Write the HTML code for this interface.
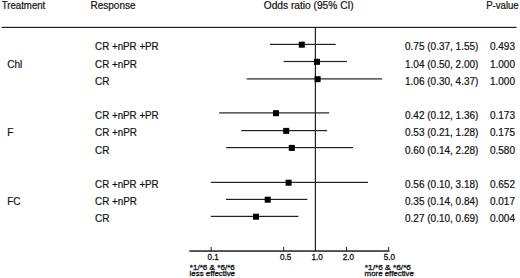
<!DOCTYPE html>
<html><head><meta charset="utf-8"><style>
html,body{margin:0;padding:0;background:#fff;width:520px;height:278px;overflow:hidden}
svg{display:block}
text{font-family:"Liberation Sans",sans-serif;fill:#111;stroke:#111;stroke-width:0.2px}
.h{font-size:10px}
.t{font-size:10px}
.a{font-size:8px;stroke-width:0.3px}
.k{font-size:8.8px;stroke-width:0.3px}
</style></head><body>
<svg width="520" height="278" viewBox="0 0 520 278">
<rect width="520" height="278" fill="#fff"/>

<text class="h" x="1.7" y="8.6" textLength="43.6" lengthAdjust="spacingAndGlyphs">Treatment</text>
<text class="h" x="90.5" y="8.6">Response</text>
<text class="h" x="263.8" y="8.6" textLength="89.9" lengthAdjust="spacingAndGlyphs">Odds ratio (95% CI)</text>
<text class="h" x="486.2" y="8.6" textLength="32.5" lengthAdjust="spacingAndGlyphs">P-value</text>
<rect x="1.6" y="26.8" width="515" height="1.2" fill="#222"/>
<rect x="314.8" y="27" width="1.2" height="224" fill="#222"/>
<rect x="189.3" y="250.3" width="200.2" height="1.5" fill="#222"/>
<rect x="210.7" y="247" width="1" height="4" fill="#222"/>
<rect x="283.2" y="247" width="1" height="4" fill="#222"/>
<rect x="346.0" y="247" width="1" height="4" fill="#222"/>
<rect x="388.1" y="247" width="1" height="4" fill="#222"/>
<text class="k" x="207.4" y="259.6" textLength="11.3" lengthAdjust="spacingAndGlyphs">0.1</text>
<text class="k" x="279.9" y="259.6" textLength="11.3" lengthAdjust="spacingAndGlyphs">0.5</text>
<text class="k" x="311.5" y="259.6" textLength="11.3" lengthAdjust="spacingAndGlyphs">1.0</text>
<text class="k" x="342.8" y="259.6" textLength="11.3" lengthAdjust="spacingAndGlyphs">2.0</text>
<text class="k" x="383.8" y="259.6" textLength="11.3" lengthAdjust="spacingAndGlyphs">5.0</text>
<text class="a" x="189.8" y="269.5" textLength="45" lengthAdjust="spacingAndGlyphs">*1/*6 &amp; *6/*6</text>
<text class="a" x="189.6" y="276.3" textLength="45.4" lengthAdjust="spacingAndGlyphs">less effective</text>
<text class="a" x="364.8" y="269.5" textLength="46.2" lengthAdjust="spacingAndGlyphs">*1/*6 &amp; *6/*6</text>
<text class="a" x="364.6" y="276.3" textLength="49.3" lengthAdjust="spacingAndGlyphs">more effective</text>
<text class="t" x="95.1" y="50.4" textLength="63.6" lengthAdjust="spacingAndGlyphs">CR +nPR +PR</text>
<text class="t" x="405" y="50.4">0.75 (0.37, 1.55)</text>
<text class="t" x="515" y="50.4" text-anchor="end">0.493</text>
<rect x="270.0" y="43.8" width="65.7" height="1.2" fill="#222"/>
<rect x="298.8" y="41.7" width="6" height="6" fill="#000"/>
<text class="t" x="95.1" y="67.6" textLength="41.8" lengthAdjust="spacingAndGlyphs">CR +nPR</text>
<text class="t" x="7.2" y="67.6">Chl</text>
<text class="t" x="405" y="67.6">1.04 (0.50, 2.00)</text>
<text class="t" x="515" y="67.6" text-anchor="end">1.000</text>
<rect x="283.6" y="60.9" width="63.4" height="1.2" fill="#222"/>
<rect x="314.0" y="58.8" width="6" height="6" fill="#000"/>
<text class="t" x="95.1" y="84.8">CR</text>
<text class="t" x="405" y="84.8">1.06 (0.30, 4.37)</text>
<text class="t" x="515" y="84.8" text-anchor="end">1.000</text>
<rect x="246.7" y="78.3" width="135.5" height="1.2" fill="#222"/>
<rect x="314.6" y="76.2" width="6" height="6" fill="#000"/>
<text class="t" x="95.1" y="119.2" textLength="63.6" lengthAdjust="spacingAndGlyphs">CR +nPR +PR</text>
<text class="t" x="405" y="119.2">0.42 (0.12, 1.36)</text>
<text class="t" x="515" y="119.2" text-anchor="end">0.173</text>
<rect x="219.1" y="112.3" width="110.1" height="1.2" fill="#222"/>
<rect x="273.0" y="110.2" width="6" height="6" fill="#000"/>
<text class="t" x="95.1" y="136.4" textLength="41.8" lengthAdjust="spacingAndGlyphs">CR +nPR</text>
<text class="t" x="7.2" y="136.4">F</text>
<text class="t" x="405" y="136.4">0.53 (0.21, 1.28)</text>
<text class="t" x="515" y="136.4" text-anchor="end">0.175</text>
<rect x="241.3" y="130.0" width="85.8" height="1.2" fill="#222"/>
<rect x="283.2" y="127.9" width="6" height="6" fill="#000"/>
<text class="t" x="95.1" y="153.6">CR</text>
<text class="t" x="405" y="153.6">0.60 (0.14, 2.28)</text>
<text class="t" x="515" y="153.6" text-anchor="end">0.580</text>
<rect x="226.2" y="147.0" width="126.8" height="1.2" fill="#222"/>
<rect x="288.8" y="144.9" width="6" height="6" fill="#000"/>
<text class="t" x="95.1" y="188.0" textLength="63.6" lengthAdjust="spacingAndGlyphs">CR +nPR +PR</text>
<text class="t" x="405" y="188.0">0.56 (0.10, 3.18)</text>
<text class="t" x="515" y="188.0" text-anchor="end">0.652</text>
<rect x="210.8" y="181.8" width="157.2" height="1.2" fill="#222"/>
<rect x="285.6" y="179.7" width="6" height="6" fill="#000"/>
<text class="t" x="95.1" y="205.2" textLength="41.8" lengthAdjust="spacingAndGlyphs">CR +nPR</text>
<text class="t" x="7.2" y="205.2">FC</text>
<text class="t" x="405" y="205.2">0.35 (0.14, 0.84)</text>
<text class="t" x="515" y="205.2" text-anchor="end">0.017</text>
<rect x="225.9" y="198.8" width="81.4" height="1.2" fill="#222"/>
<rect x="264.7" y="196.7" width="6" height="6" fill="#000"/>
<text class="t" x="95.1" y="222.4">CR</text>
<text class="t" x="405" y="222.4">0.27 (0.10, 0.69)</text>
<text class="t" x="515" y="222.4" text-anchor="end">0.004</text>
<rect x="210.8" y="215.8" width="87.6" height="1.2" fill="#222"/>
<rect x="253.0" y="213.7" width="6" height="6" fill="#000"/>
</svg></body></html>
